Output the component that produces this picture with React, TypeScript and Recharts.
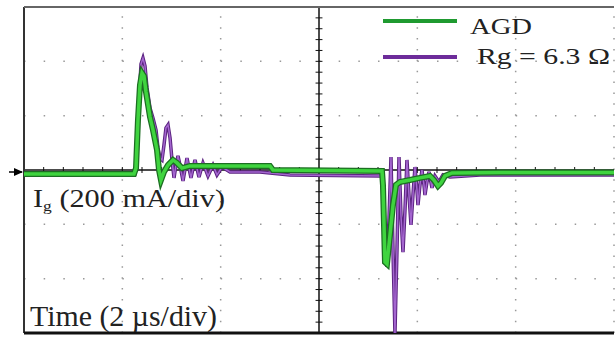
import React from 'react';
import { LineChart, Line, XAxis, YAxis, ReferenceLine } from 'recharts';

// scope capture: time in µs (2 µs/div), gate current in mA (200 mA/div)
const agdTrace: [number, number][] = [
  [0, -15], [2.237, -15], [2.278, 7], [2.318, 184], [2.359, 313], [2.4, 357],
  [2.44, 346], [2.481, 287], [2.563, 195], [2.624, 147], [2.705, 74], [2.746, 0],
  [2.786, -37], [2.847, -7], [2.929, 18], [3.03, 37], [3.112, 26], [3.213, 7],
  [3.376, 15], [5.003, 15], [5.064, 0], [7.281, -4], [7.301, -55], [7.342, -339],
  [7.383, -346], [7.444, -239], [7.505, -129], [7.566, -55], [7.647, -44],
  [7.85, -37], [8.054, -29], [8.257, -22], [8.338, -37], [8.42, -59], [8.481, -48],
  [8.562, -22], [8.705, -11], [9.681, -9], [12, -9],
];

const rgTrace: [number, number][] = [
  [0, -15], [2.257, -15], [2.298, 37], [2.339, 258], [2.38, 390], [2.42, 412],
  [2.461, 383], [2.502, 302], [2.563, 228], [2.624, 191], [2.685, 147], [2.725, 81],
  [2.766, 44], [2.807, 37], [2.847, 92], [2.888, 155], [2.929, 166], [2.97, 118],
  [3.01, 37], [3.051, -29], [3.091, 18], [3.132, 52], [3.173, 18], [3.234, -40],
  [3.315, 44], [3.396, -29], [3.478, 37], [3.559, -26], [3.64, 26], [3.742, -22],
  [3.844, 18], [3.925, -18], [4.027, 11], [4.19, -7], [4.8, -7], [5.41, -18],
  [7.281, -22], [7.321, -166], [7.383, -357], [7.423, -184], [7.464, 48],
  [7.505, -294], [7.545, -600], [7.586, -294], [7.627, 48], [7.667, -166],
  [7.708, -302], [7.749, -147], [7.789, 37], [7.83, -92], [7.871, -202],
  [7.911, -92], [7.952, 11], [7.993, -74], [8.013, -129], [8.054, -55], [8.094, 0],
  [8.135, -55], [8.155, -92], [8.196, -44], [8.237, -7], [8.298, -66], [8.359, -22],
  [8.44, -44], [8.522, -18], [8.664, -26], [9.274, -18], [12, -18],
];

const gridTimes = [2, 4, 8, 10, 12];
const gridCurrents = [-400, -200, 200, 400];
const minorTimes = Array.from({ length: 29 }, (_, k) => +(0.4 * (k + 1)).toFixed(2));
const minorCurrents = Array.from({ length: 29 }, (_, k) => -560 + 40 * k);

const agdData = agdTrace.map(([t, i]) => ({ t, i }));
const rgData = rgTrace.map(([t, i]) => ({ t, i }));

const serif = 'Liberation Serif';

const ZeroMarker = (props: any) => {
  const { x, y } = props;
  return (
    <g>
      <line x1={x - 15} y1={y + 2} x2={x - 2} y2={y + 2} stroke="#000" strokeWidth={1.5} />
      <path d={`M${x - 10},${y - 2} L${x - 1},${y + 2} L${x - 10},${y + 6} Z`} fill="#000" />
    </g>
  );
};

export default function App() {
  return (
    <div style={{ position: 'absolute', left: 0, top: 0, width: 615, height: 337, overflow: 'hidden', background: '#fff' }}>
      <LineChart width={615} height={337} margin={{ top: 7, right: 1, bottom: 4, left: 0 }}>
        <XAxis dataKey="t" type="number" domain={[0, 12]} hide allowDuplicatedCategory={false} />
        <YAxis
          type="number"
          domain={[-600, 600]}
          width={24}
          ticks={[0]}
          tick={<ZeroMarker />}
          tickSize={0}
          tickMargin={0}
          axisLine={false}
          tickLine={false}
        />
        {gridCurrents.map((c) => (
          <ReferenceLine key={'h' + c} y={c} stroke="#999" strokeWidth={1.5} strokeDasharray="1.5 18.167" />
        ))}
        {gridTimes.map((t) => (
          <ReferenceLine key={'v' + t} x={t} stroke="#999" strokeWidth={1.5} strokeDasharray="1.5 9.367" />
        ))}
        <ReferenceLine y={0} stroke="#111" strokeWidth={1.5} />
        <ReferenceLine x={6} stroke="#111" strokeWidth={1.5} />
        {minorTimes.map((t) => (
          <ReferenceLine key={'mt' + t} segment={[{ x: t, y: -11 }, { x: t, y: 11 }]} stroke="#111" strokeWidth={1} />
        ))}
        {minorCurrents.map((c) => (
          <ReferenceLine key={'mc' + c} segment={[{ x: 5.93, y: c }, { x: 6.07, y: c }]} stroke="#111" strokeWidth={1} />
        ))}
        <ReferenceLine x={0} stroke="#333" strokeWidth={2} />
        <ReferenceLine y={600} stroke="#666" strokeWidth={2} />
        <ReferenceLine y={-600} stroke="#111" strokeWidth={3} />
        <Line data={rgData} dataKey="i" type="linear" stroke="#5b2380" strokeWidth={3.5} dot={false} isAnimationActive={false} />
        <Line data={rgData} dataKey="i" type="linear" stroke="#a466cf" strokeWidth={1.5} dot={false} isAnimationActive={false} />
        <Line data={agdData} dataKey="i" type="linear" stroke="#1c6e22" strokeWidth={6} dot={false} isAnimationActive={false} />
        <Line data={agdData} dataKey="i" type="linear" stroke="#3fd43f" strokeWidth={3.5} dot={false} isAnimationActive={false} />
      </LineChart>
      <svg width={615} height={337} style={{ position: 'absolute', left: 0, top: 0, pointerEvents: 'none' }}>
        <line x1={383} y1={21} x2={457} y2={21} stroke="#1f9a30" strokeWidth={4} />
        <line x1={383} y1={57} x2={457} y2={57} stroke="#6d2c9a" strokeWidth={4} />
        <text x={470} y={34} fontFamily={serif} fontSize={24} fill="#222" textLength={62} lengthAdjust="spacingAndGlyphs">AGD</text>
        <text x={477} y={64} fontFamily={serif} fontSize={24} fill="#222" textLength={133} lengthAdjust="spacingAndGlyphs">Rg = 6.3 Ω</text>
        <text x={33} y={207} fontFamily={serif} fontSize={26} fill="#222" textLength={192} lengthAdjust="spacingAndGlyphs">
          I<tspan fontSize={15} dy={4}>g</tspan><tspan dy={-4}> (200 mA/div)</tspan>
        </text>
        <text x={30} y={326} fontFamily={serif} fontSize={30} fill="#222" textLength={187} lengthAdjust="spacingAndGlyphs">Time (2 µs/div)</text>
      </svg>
    </div>
  );
}
